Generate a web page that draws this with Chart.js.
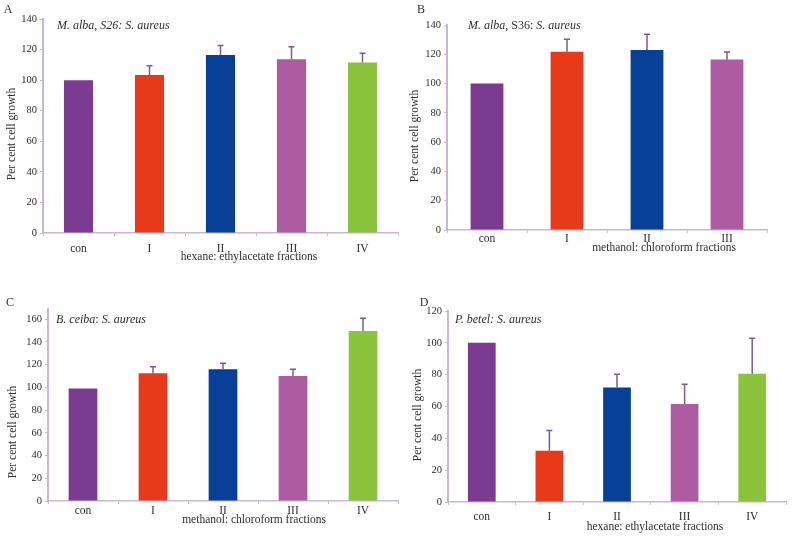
<!DOCTYPE html>
<html><head><meta charset="utf-8">
<script src="https://cdn.jsdelivr.net/npm/chart.js@4.4.1/dist/chart.umd.min.js"></script>
<style>
html,body{margin:0;padding:0;background:#fff;width:798px;height:537px;overflow:hidden;}
canvas{position:absolute;display:block;}
</style></head><body>
<canvas id="cA" width="400" height="270" style="left:0;top:0;width:400px;height:270px"></canvas>
<canvas id="cB" width="398" height="270" style="left:400px;top:0;width:398px;height:270px"></canvas>
<canvas id="cC" width="400" height="267" style="left:0;top:270px;width:400px;height:267px"></canvas>
<canvas id="cD" width="398" height="267" style="left:400px;top:270px;width:398px;height:267px"></canvas>
<script>
// ---------- data ----------
const categoriesA = ['con', 'I', 'II', 'III', 'IV'];
const valuesA = [100, 103.4, 116.5, 113.6, 111.5];
const errorsA = [0, 6, 6.1, 8.3, 6.1];

const categoriesB = ['con', 'I', 'II', 'III'];
const valuesB = [100, 121.8, 122.9, 116.5];
const errorsB = [0, 8.4, 10.7, 5.1];

const categoriesC = ['con', 'I', 'II', 'III', 'IV'];
const valuesC = [99, 112.4, 115.9, 110, 149.7];
const errorsC = [0, 5.8, 5.3, 5.9, 11.2];

const categoriesD = ['con', 'I', 'II', 'III', 'IV'];
const valuesD = [100, 32.2, 71.9, 61.5, 80.5];
const errorsD = [0, 12.8, 8.4, 12.5, 22.4];

const yTicksA = [0, 20, 40, 60, 80, 100, 120, 140];
const yTicksB = [0, 20, 40, 60, 80, 100, 120, 140];
const yTicksC = [0, 20, 40, 60, 80, 100, 120, 140, 160];
const yTicksD = [0, 20, 40, 60, 80, 100, 120];

const yTitle = 'Per cent cell growth';
const xTitleA = 'hexane: ethylacetate fractions';
const xTitleB = 'methanol: chloroform fractions';
const xTitleC = 'methanol: chloroform fractions';
const xTitleD = 'hexane: ethylacetate fractions';

// inset titles: [text, italic]
const insetA = [['M. alba, S26: S. aureus', true]];
const insetB = [['M. alba', true], [', S36: ', false], ['S. aureus', true]];
const insetC = [['B. ceiba', true], [': ', false], ['S. aureus', true]];
const insetD = [['P. betel: S. aureus', true]];

// ---------- styles ----------
const FONT = "'Liberation Serif', 'DejaVu Serif', serif";
const AXIS = '#c7b8d8';
const ERR = '#7e5a8e';
const TXT = '#2e2e2e';
const COLORS = ['#7b3b91', '#e8391b', '#083f97', '#ae5ca2', '#8bc43c'];

function makeChart(id, c) {
  const decor = {
    id: 'decor' + id,
    afterDatasetsDraw(chart) {
      const ctx = chart.ctx;
      const ys = chart.scales.y;
      const meta = chart.getDatasetMeta(0);
      ctx.save();
      // error bars
      ctx.strokeStyle = ERR; ctx.lineWidth = 1.5;
      c.values.forEach((v, i) => {
        const e = c.errors[i];
        if (!e) return;
        const px = meta.data[i].x;
        const y0 = ys.getPixelForValue(v), y1 = ys.getPixelForValue(v + e);
        ctx.beginPath();
        ctx.moveTo(px, y0); ctx.lineTo(px, y1);
        ctx.moveTo(px - 3, y1); ctx.lineTo(px + 3, y1);
        ctx.stroke();
      });
      ctx.fillStyle = TXT;
      // inset title
      ctx.textBaseline = 'middle'; ctx.textAlign = 'left';
      let tx = c.inset.x - c.x0;
      c.inset.parts.forEach(([t, it]) => {
        ctx.font = (it ? 'italic ' : '') + '12px ' + FONT;
        ctx.fillText(t, tx, c.inset.y - c.y0);
        tx += ctx.measureText(t).width;
      });
      // x title
      ctx.font = '11.5px ' + FONT; ctx.textAlign = 'center';
      ctx.fillText(c.xTitle.text, c.xTitle.x - c.x0, c.xTitle.y - c.y0);
      // y title
      ctx.save();
      ctx.translate(c.yTitle.x - c.x0, c.yTitle.y - c.y0);
      ctx.rotate(-Math.PI / 2);
      ctx.fillText(yTitle, 0, 0);
      ctx.restore();
      // panel letter
      ctx.font = '12px ' + FONT;
      ctx.fillText(c.letter.t, c.letter.x - c.x0, c.letter.y - c.y0);
      ctx.restore();
    }
  };
  return new Chart(document.getElementById(id), {
    type: 'bar',
    data: {
      labels: c.labels,
      datasets: [{ data: c.values, backgroundColor: COLORS.slice(0, c.values.length), borderWidth: 0,
                   barPercentage: 0.41, categoryPercentage: 1 }]
    },
    options: {
      responsive: false, animation: false, devicePixelRatio: 1,
      layout: { padding: c.pad },
      plugins: { legend: { display: false }, tooltip: { enabled: false } },
      scales: {
        x: {
          grid: { display: true, drawOnChartArea: false, drawTicks: true, tickLength: 3, color: AXIS, offset: true },
          border: { color: AXIS, width: 1.5 },
          ticks: { font: { family: FONT, size: 11.5 }, color: TXT, padding: c.xPad, maxRotation: 0, autoSkip: false },
          afterFit: s => { s.height = c.xH; }
        },
        y: {
          min: 0, max: c.max,
          grid: { display: true, drawOnChartArea: false, drawTicks: true, tickLength: 3, color: AXIS },
          border: { color: AXIS, width: 2 },
          ticks: { font: { family: FONT, size: 10.5 }, color: TXT, padding: 3 },
          afterBuildTicks: s => { s.ticks = c.yTicks.map(v => ({ value: v })); },
          afterFit: s => { s.width = c.yW; }
        }
      }
    },
    plugins: [decor]
  });
}

makeChart('cA', {
  x0: 0, y0: 0, labels: categoriesA, values: valuesA, errors: errorsA, yTicks: yTicksA, max: 140,
  pad: { top: 19, right: 2, bottom: 0, left: 0 }, yW: 43, xH: 37, xPad: 6,
  inset: { x: 57, y: 26, parts: insetA },
  xTitle: { text: xTitleA, x: 249, y: 257 }, yTitle: { x: 12, y: 134 }, letter: { t: 'A', x: 8, y: 10 }
});
makeChart('cB', {
  x0: 400, y0: 0, labels: categoriesB, values: valuesB, errors: errorsB, yTicks: yTicksB, max: 140,
  pad: { top: 25, right: 31, bottom: 0, left: 0 }, yW: 47, xH: 40, xPad: -1,
  inset: { x: 468, y: 26, parts: insetB },
  xTitle: { text: xTitleB, x: 664, y: 248 }, yTitle: { x: 415, y: 136 }, letter: { t: 'B', x: 421, y: 10 }
});
makeChart('cC', {
  x0: 0, y0: 270, labels: categoriesC, values: valuesC, errors: errorsC, yTicks: yTicksC, max: 169,
  pad: { top: 39, right: 2, bottom: 0, left: 0 }, yW: 48, xH: 36, xPad: 0,
  inset: { x: 56, y: 320, parts: insetC },
  xTitle: { text: xTitleC, x: 254, y: 520 }, yTitle: { x: 13, y: 432 }, letter: { t: 'C', x: 10, y: 303 }
});
makeChart('cD', {
  x0: 400, y0: 270, labels: categoriesD, values: valuesD, errors: errorsD, yTicks: yTicksD, max: 120,
  pad: { top: 41, right: 12, bottom: 0, left: 0 }, yW: 48, xH: 35, xPad: 5,
  inset: { x: 455, y: 320, parts: insetD },
  xTitle: { text: xTitleD, x: 655, y: 527 }, yTitle: { x: 418, y: 415 }, letter: { t: 'D', x: 424, y: 303 }
});
</script>
</body></html>
